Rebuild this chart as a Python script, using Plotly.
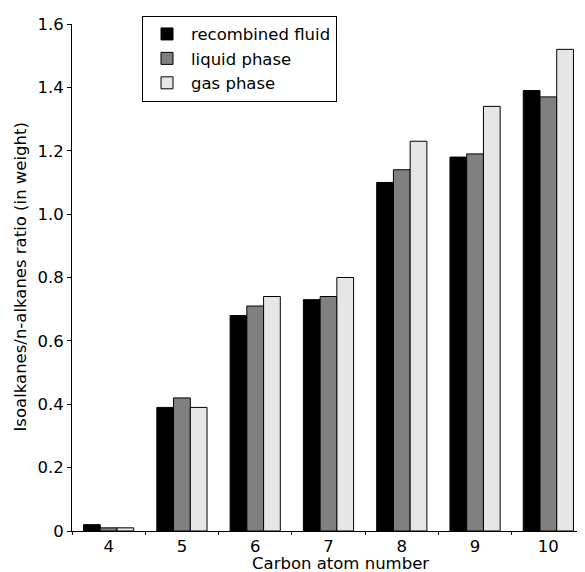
import plotly.graph_objects as go

categories = ["4", "5", "6", "7", "8", "9", "10"]
recombined_fluid = [0.02, 0.39, 0.68, 0.73, 1.10, 1.18, 1.39]
liquid_phase = [0.01, 0.42, 0.71, 0.74, 1.14, 1.19, 1.37]
gas_phase = [0.01, 0.39, 0.74, 0.80, 1.23, 1.34, 1.52]

y_tickvals = [0, 0.2, 0.4, 0.6, 0.8, 1.0, 1.2, 1.4, 1.6]
y_ticktext = ["0", "0.2", "0.4", "0.6", "0.8", "1.0", "1.2", "1.4", "1.6"]

FONT = "DejaVu Sans, Liberation Sans, Arial, sans-serif"
FS = 16.5

# the page body has an 8px default margin, so the figure is offset by 8px
OFF = 8
W, H = 585 - OFF, 572 - OFF
ML, MR, MT, MB = 72 - OFF, 0, 24 - OFF, 41
PW, PH = W - ML - MR, H - MT - MB


def px(xp):
    return (xp - OFF - ML) / PW


def py(yp):
    return 1 - (yp - OFF - MT) / PH


fig = go.Figure()
for name, vals, col in [
    ("recombined fluid", recombined_fluid, "#000000"),
    ("liquid phase", liquid_phase, "#808080"),
    ("gas phase", gas_phase, "#e6e6e6"),
]:
    fig.add_trace(go.Bar(
        x=categories, y=vals, name=name,
        marker=dict(color=col, line=dict(color="#000000", width=1)),
    ))

fig.update_layout(
    width=W, height=H,
    margin=dict(l=ML, r=MR, t=MT, b=MB, autoexpand=False),
    plot_bgcolor="white", paper_bgcolor="white",
    barmode="group", bargap=0.315, bargroupgap=0,
    font=dict(family=FONT, size=FS, color="#000000"),
    showlegend=True,
    legend=dict(
        x=px(142), y=py(15.7), xanchor="left", yanchor="top",
        bordercolor="#000000", borderwidth=1, bgcolor="white",
        font=dict(size=FS), tracegroupgap=0, itemwidth=38,
    ),
    xaxis=dict(
        type="category", range=[-0.5, 6.5], automargin=False,
        showline=True, linecolor="#000000", linewidth=1,
        ticks="outside", ticklen=3, tickcolor="#000000", tickson="boundaries",
        showgrid=False, zeroline=False,
        tickfont=dict(size=FS),
    ),
    yaxis=dict(
        range=[0, 1.6], automargin=False,
        tickvals=y_tickvals, ticktext=y_ticktext,
        showline=True, linecolor="#000000", linewidth=1,
        ticks="outside", ticklen=4, tickcolor="#000000",
        showgrid=False, zeroline=False,
        tickfont=dict(size=FS),
    ),
    annotations=[
        dict(text="Carbon atom number", xref="paper", yref="paper",
             x=px(340), y=py(563), xanchor="center", yanchor="middle",
             showarrow=False, font=dict(size=FS), borderpad=0),
        dict(text="Isoalkanes/n-alkanes ratio (in weight)", xref="paper", yref="paper",
             x=px(20), y=0.5, xanchor="center", yanchor="middle", textangle=-90,
             showarrow=False, font=dict(size=FS)),
    ],
)

fig.write_html("out.html")
